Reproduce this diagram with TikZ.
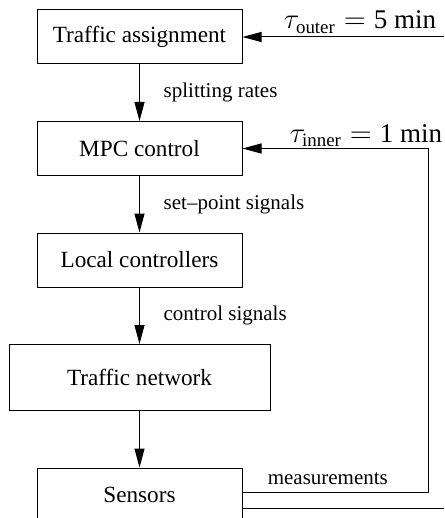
\documentclass[tikz,border=0pt]{standalone}
\usepackage{amsmath}
\usepackage{fontspec}
\setmainfont{Liberation Serif}
\usetikzlibrary{arrows.meta,positioning,calc}

\begin{document}
\begin{tikzpicture}[x=0.5pt,y=-0.5pt,node distance=28.25pt,
>={Triangle[length=9.5pt,width=5pt]},line width=0.5pt,
block/.style={draw,minimum width=102.5pt,minimum height=27pt,inner sep=0pt,
    font=\fontsize{11.6}{14}\selectfont},
wideblock/.style={block,minimum width=130.5pt,minimum height=33pt},
sig/.style={right=8.5pt,font=\fontsize{10.5}{12}\selectfont},
tau/.style={font=\fontsize{13.5}{16}\selectfont}
    ]
\useasboundingbox (0,0) rectangle (444,518);
\clip (0,0) rectangle (444,518);

\node[block] (TA) at (139.5,37) {Traffic assignment};
\node[block] (MPC) [below=of TA] {MPC control};
\node[block] (LC) [below=of MPC] {Local controllers};
\node[wideblock] (TN) [below=of LC] {Traffic network};
\node[block] (Sens) [below=of TN] {Sensors};
\coordinate (innerx) at (428,0);
\coordinate (outerx) at (460,0);

\path[->]
     (TA) edge node [sig] {splitting rates} (MPC)
     (MPC) edge node [sig] {set--point signals} (LC)
     (LC) edge node [sig] {control signals} (TN)
     (TN) edge (Sens);

% feedback loops
\draw[->] ([yshift=1.5pt]Sens.east) coordinate (meas) -- node [above,pos=0.46,font=\fontsize{10.5}{12}\selectfont] {measurements} (meas -| innerx)
     |- node [above,pos=0.667,tau,inner sep=0.5pt] {$\tau_{\text{inner}} = \text{1 min}$} (MPC.east);
\draw[->] ([yshift=-6.5pt]Sens.east) coordinate (back) -- (back -| outerx)
     |- node [above,pos=0.73,tau,inner sep=1.5pt] {$\tau_{\text{outer}} = \text{5 min}$} (TA.east);
\end{tikzpicture}
\end{document}
